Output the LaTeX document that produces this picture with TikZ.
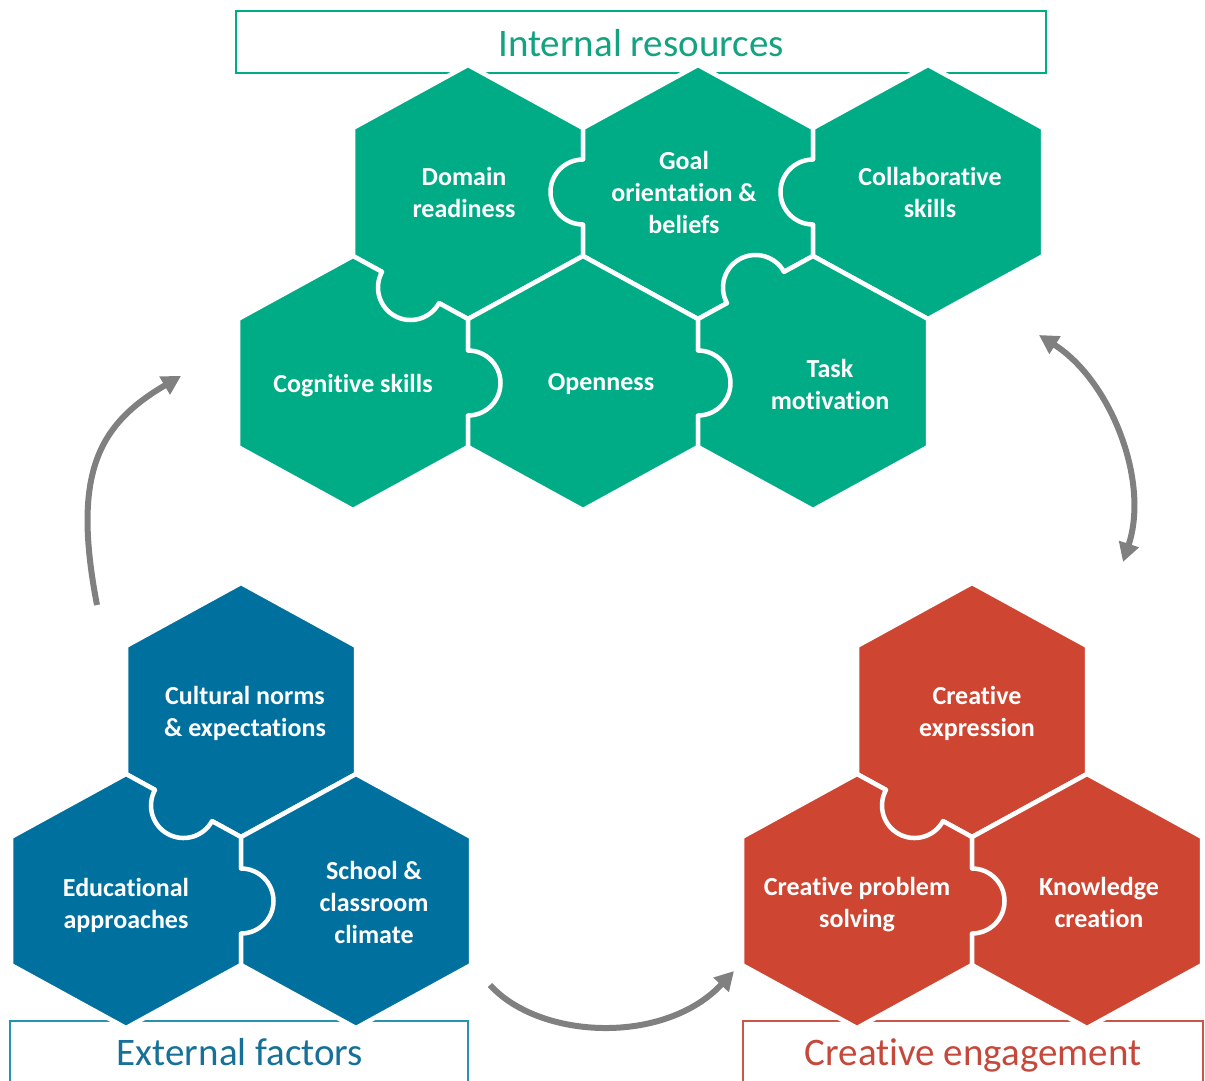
\documentclass[tikz,border=0pt]{standalone}
\usepackage{fontspec}
\setmainfont{Carlito}[Ligatures=CommonOff,Contextuals=AlternateOff]
\usetikzlibrary{arrows.meta}
\definecolor{grn}{RGB}{0,172,134}
\definecolor{grntxt}{RGB}{20,163,128}
\definecolor{blu}{RGB}{0,112,159}
\definecolor{blutxt}{RGB}{22,112,152}
\definecolor{bluline}{RGB}{40,145,172}
\definecolor{rd}{RGB}{206,70,50}
\definecolor{rdtxt}{RGB}{198,72,58}
\definecolor{rdline}{RGB}{205,85,72}
\definecolor{arrowgray}{RGB}{128,128,128}
\tikzset{
  hexfill/.style={draw=white, line width=4.5pt, line join=miter},
  tabarc/.style={draw=white, line width=4.5pt, line cap=round},
  lbl/.style={text=white, font=\bfseries\fontsize{26}{32}\selectfont, align=center, inner sep=0pt},
  ttl/.style={font=\fontsize{39}{44}\selectfont, inner sep=0pt, anchor=base},
  framebox/.style={line width=2.5pt, fill=white},
  flow/.style={draw=arrowgray, line width=6pt, -{Triangle[length=19pt,width=20pt]}},
  flowboth/.style={draw=arrowgray, line width=6pt, {Triangle[length=19pt,width=20pt]}-{Triangle[length=19pt,width=20pt]}},
}
\newcommand\hexat[3]{\path[hexfill, fill=#3, shift={(#1,#2)}] (-115,-64) -- (0,-127) -- (115,-64) -- (115,64) -- (0,127) -- (-115,64) -- cycle;}
\newcommand\tabat[5]{%
  \fill[#5] (#1,#2) circle[radius=32.5];
  \draw[tabarc] (#1,#2) ++(#3:32.5) arc[start angle=#3, end angle=#4, radius=32.5];}
\begin{document}
\begin{tikzpicture}[x=1pt,y=-1pt]
\useasboundingbox (0,0) rectangle (1205,1080);
% title frames
\draw[framebox, draw=grn] (236,11) rectangle (1046,73);
\draw[framebox, draw=bluline] (10,1021) rectangle (468,1090);
\draw[framebox, draw=rdline] (743,1021) rectangle (1203,1090);
\node[ttl, text=grntxt] (tint) at (641,56) {Internal resources};
\node[ttl, text=blutxt] (text) at (240,1065) {External factors};
\node[ttl, text=rdtxt] (tcre) at (973,1065) {Creative engagement};
% internal resources
\hexat{468}{192}{grn}
\hexat{698}{192}{grn}
\hexat{928}{192}{grn}
\hexat{353}{383}{grn}
\hexat{583}{383}{grn}
\hexat{813}{383}{grn}
\tabat{583}{192}{270}{90}{grn}
\tabat{813}{192}{270}{90}{grn}
\tabat{410.5}{287.5}{208.7}{28.7}{grn}
\tabat{755.5}{287.5}{151.3}{331.3}{grn}
\tabat{468}{383}{-90}{90}{grn}
\tabat{698}{383}{-90}{90}{grn}
% external factors
\hexat{241}{710}{blu}
\hexat{126}{901}{blu}
\hexat{356}{901}{blu}
\tabat{183.5}{805.5}{208.7}{28.7}{blu}
\tabat{241}{901}{-90}{90}{blu}
% creative engagement
\hexat{972}{710}{rd}
\hexat{857}{901}{rd}
\hexat{1087}{901}{rd}
\tabat{914.5}{805.5}{208.7}{28.7}{rd}
\tabat{972}{901}{-90}{90}{rd}
% labels
\node[lbl] (dom) at (464,192) {Domain\\readiness};
\node[lbl] (goal) at (684,192) {Goal\\orientation \&\\beliefs};
\node[lbl] (col) at (930,192) {Collaborative\\skills};
\node[lbl] (cog) at (353,386) {Cognitive skills};
\node[lbl] (ope) at (601,384) {Openness};
\node[lbl] (task) at (830,384) {Task\\motivation};
\node[lbl] (cul) at (245,713) {Cultural norms\\\& expectations};
\node[lbl] (edu) at (126,905) {Educational\\approaches};
\node[lbl] (sch) at (374,902) {School \&\\classroom\\climate};
\node[lbl] (cex) at (977,713) {Creative\\expression};
\node[lbl] (cps) at (857,905) {Creative problem\\solving};
\node[lbl] (kno) at (1099,902) {Knowledge\\creation};
% arrows
\coordinate (a1s) at (97,605);
\coordinate (a1e) at (181,376);
\coordinate (a2s) at (1039,335);
\coordinate (a2e) at (1123,562);
\coordinate (a3s) at (490,985);
\coordinate (a3e) at (734,971);
\draw[flow] (a1s) .. controls (72,475) and (97,425) .. (a1e);
\draw[flowboth] (a2s) .. controls (1110,380) and (1150,480) .. (a2e);
\draw[flow] (a3s) .. controls (540,1040) and (665,1045) .. (a3e);
\end{tikzpicture}
\end{document}
